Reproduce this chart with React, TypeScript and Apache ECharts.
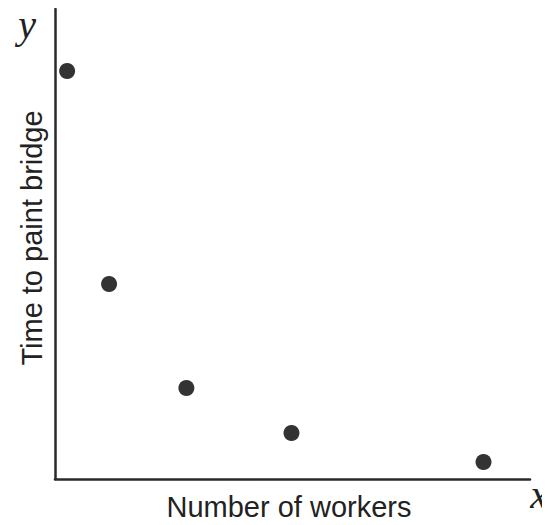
import React, { useEffect, useRef } from "react";
import * as echarts from "echarts";

const workers = [1.2, 5.35, 13.0, 23.4, 42.4];
const paintTime = [40.8, 19.5, 9.1, 4.6, 1.7];
const xTitle = "Number of workers";
const yTitle = "Time to paint bridge";

export default function App() {
  const ref = useRef<HTMLDivElement>(null);
  useEffect(() => {
    const chart = echarts.init(ref.current!, undefined, { renderer: "svg" });
    chart.setOption({
      animation: false,
      backgroundColor: "#ffffff",
      grid: { left: 55, top: 9, width: 475, height: 470 },
      xAxis: {
        type: "value",
        min: 0,
        max: 47,
        axisLine: { show: true, onZero: false, lineStyle: { color: "#2a2a2a", width: 2.5 } },
        axisTick: { show: false },
        axisLabel: { show: false },
        splitLine: { show: false },
      },
      yAxis: {
        type: "value",
        min: 0,
        max: 47,
        axisLine: { show: true, onZero: false, lineStyle: { color: "#2a2a2a", width: 2.5 } },
        axisTick: { show: false },
        axisLabel: { show: false },
        splitLine: { show: false },
      },
      graphic: [
        {
          type: "text",
          x: 289,
          y: 507,
          style: {
            text: xTitle,
            font: "29px 'Liberation Sans'",
            fill: "#222",
            textAlign: "center",
            textVerticalAlign: "middle",
          },
        },
        {
          type: "text",
          x: 32,
          y: 238,
          rotation: Math.PI / 2,
          style: {
            text: yTitle,
            font: "29px 'Liberation Sans'",
            fill: "#222",
            textAlign: "center",
            textVerticalAlign: "middle",
          },
        },
        {
          type: "text",
          x: 27,
          y: 24,
          style: {
            text: "y",
            font: "italic 40px 'Liberation Serif'",
            fill: "#222",
            textAlign: "center",
            textVerticalAlign: "middle",
          },
        },
        {
          type: "text",
          x: 539,
          y: 494,
          style: {
            text: "x",
            font: "italic 40px 'Liberation Serif'",
            fill: "#222",
            textAlign: "center",
            textVerticalAlign: "middle",
          },
        },
      ],
      series: [
        {
          type: "scatter",
          data: workers.map((w, i) => [w, paintTime[i]]),
          symbol: "circle",
          symbolSize: 16,
          itemStyle: { color: "#000" },
        },
      ],
    });
    return () => chart.dispose();
  }, []);
  return <div ref={ref} style={{ width: 550, height: 525, margin: -8 }} />;
}
